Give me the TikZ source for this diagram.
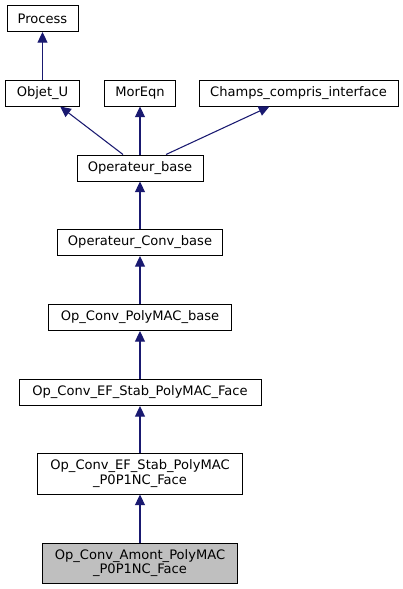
\documentclass[tikz,border=0pt]{standalone}
\usepackage{fontspec}
\setmainfont{DejaVu Sans}
\usetikzlibrary{arrows.meta}
\definecolor{edgeblue}{HTML}{191970}
\definecolor{curgray}{HTML}{BFBFBF}
\begin{document}
\begin{tikzpicture}[x=0.75pt, y=-0.75pt,
	cls/.style = {draw, line width=0.75pt, inner sep=0pt, minimum height=19.5pt,
		align=center, font=\fontsize{9.8}{11}\selectfont},
	inh/.style = {draw=edgeblue, line width=0.8pt,
		-{Triangle[length=8pt,width=7.5pt,fill=edgeblue]}}]
	\useasboundingbox (0,0) rectangle (403,589);
%	\draw[help lines] (0,0) grid (403,589);
	\node [cls, minimum width=53.25pt] (process) at (42.5,18.5) {Process};
	\node [cls, minimum width=55.5pt] (objetu) at (42.5,93) {Objet\_U};
	\node [cls, minimum width=53.25pt] (moreqn) at (140,93) {MorEqn};
	\node [cls, minimum width=149.25pt] (champs) at (298.5,93) {Champs\_compris\_interface};
	\node [cls, minimum width=94.5pt] (opbase) at (140,168) {Operateur\_base};
	\node [cls, minimum width=123.75pt] (opconv) at (140,242.5) {Operateur\_Conv\_base};
	\node [cls, minimum width=137.25pt] (polymac) at (140,317.5) {Op\_Conv\_PolyMAC\_base};
	\node [cls, minimum width=181.5pt] (efface) at (140,392.5) {Op\_Conv\_EF\_Stab\_PolyMAC\_Face};
	\node [cls, minimum width=153.75pt, minimum height=30.75pt] (efp0p1) at (140,473.5)
		{Op\_Conv\_EF\_Stab\_PolyMAC\\\_P0P1NC\_Face};
	\node [cls, fill=curgray, minimum width=146.25pt, minimum height=30pt] (amont) at (140,563)
		{Op\_Conv\_Amont\_PolyMAC\\\_P0P1NC\_Face};
	\draw [inh] (objetu) -- (process);
	\draw [inh] ([xshift=-12.75pt]opbase.north) -- (objetu);
	\draw [inh] (opbase) -- (moreqn);
	\draw [inh] ([xshift=19.5pt]opbase.north) -- (champs);
	\draw [inh] (opconv) -- (opbase);
	\draw [inh] (polymac) -- (opconv);
	\draw [inh] (efface) -- (polymac);
	\draw [inh] (efp0p1) -- (efface);
	\draw [inh] (amont) -- (efp0p1);
\end{tikzpicture}
\end{document}
